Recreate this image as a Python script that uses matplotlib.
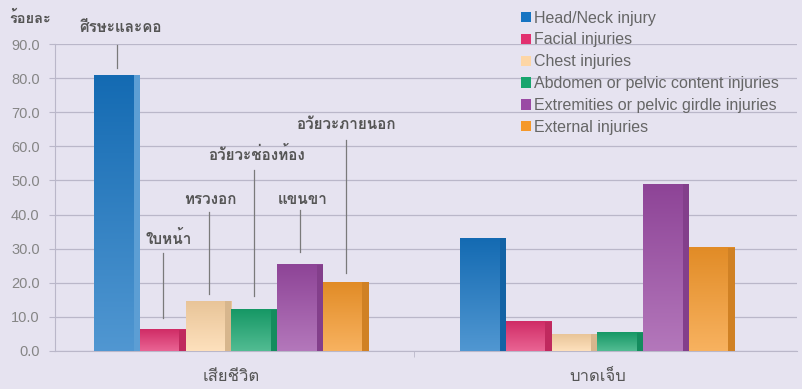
import numpy as np
import matplotlib
matplotlib.use("Agg")
import matplotlib.pyplot as plt
from matplotlib import font_manager
from matplotlib.ft2font import FT2Font
from matplotlib.colors import to_rgb

groups = ["เสียชีวิต", "บาดเจ็บ"]
series = ["Head/Neck injury", "Facial injuries", "Chest injuries",
          "Abdomen or pelvic content injuries",
          "Extremities or pelvic girdle injuries", "External injuries"]
thai_names = ["ศีรษะและคอ", "ใบหน้า", "ทรวงอก", "อวัยวะช่องท้อง", "แขนขา", "อวัยวะภายนอก"]
died = [80.8, 6.2, 14.6, 12.1, 25.3, 20.2]
injured = [33.0, 8.6, 4.9, 5.3, 48.9, 30.2]
yticks = [0, 10, 20, 30, 40, 50, 60, 70, 80, 90]
colors = ["#1674c2", "#e2306f", "#fdd6a6", "#18a56e", "#9a4aa4", "#f5982a"]

BG = "#e6e3f0"
GRID = "#bab7c9"
LATIN = ["Liberation Sans", "DejaVu Sans"]


def thai_fonts():
    found = []
    for f in font_manager.fontManager.ttflist:
        try:
            if 0x0E28 in FT2Font(f.fname).get_charmap() and f.name not in found:
                found.append(f.name)
        except Exception:
            pass
    return found


def shade(c, f):
    r = np.array(to_rgb(c))
    return r + (1 - r) * f if f > 0 else r * (1 + f)


def main():
    thai = thai_fonts()
    plt.rcParams["font.family"] = thai + ["DejaVu Sans"]

    fig = plt.figure(figsize=(8.03, 3.89), dpi=100, facecolor=BG)
    ax = fig.add_axes([55 / 803, 38 / 389, 742 / 803, 307 / 389])
    ax.set_facecolor(BG)

    w = 0.125
    data = [died, injured]
    for gi, vals in enumerate(data):
        for i, v in enumerate(vals):
            x = gi + (i - 2.5) * w
            c = colors[i]
            bar = ax.bar(x, v, w, color=c, zorder=3, label=series[i] if gi == 0 else None)[0]
            grad = np.linspace(shade(c, -0.08), shade(c, 0.25), 50).reshape(50, 1, 3)
            ax.imshow(grad, extent=[x - w / 2, x + w / 2, 0, v], aspect="auto",
                      clip_path=bar, zorder=3.5, interpolation="bilinear")
            sw = w * 0.14
            side = shade(c, 0.3) if gi == 0 and i == 0 else shade(c, -0.15)
            ax.bar(x + w / 2 - sw / 2, v, sw, color=side, zorder=4)

    ax.set_xlim(-0.482, 1.545)
    ax.set_ylim(0, 90)
    ax.set_yticks(yticks, [f"{t:.1f}" for t in yticks])
    ax.set_xticks([0, 1], groups)
    ax.set_xticks([0.5], minor=True)
    ax.tick_params(axis="x", which="major", length=0, pad=13, labelsize=12, labelcolor="#555555")
    ax.tick_params(axis="x", which="minor", length=4, color=GRID, direction="out")
    ax.tick_params(axis="y", length=4, color=GRID, pad=7, labelsize=10.5, labelcolor="#858585")
    for lab in ax.get_yticklabels():
        lab.set_family(LATIN)
    ax.grid(axis="y", color=GRID, linewidth=0.9, zorder=0)
    for s in ["top", "right"]:
        ax.spines[s].set_visible(False)
    ax.spines["left"].set_color(GRID)
    ax.spines["bottom"].set_color(GRID)

    # Thai callouts for the first group
    text_x = [-0.304, -0.17, -0.057, 0.069, 0.195, 0.314]
    text_y = [94.8, 33.1, 44.3, 57.5, 44.3, 66.3]
    line_top = [89.7, 28.7, 40.8, 53.1, 41.3, 61.9]
    gaps = [2.2, 3.5, 2.0, 4.0, 3.8, 2.8]
    for i, name in enumerate(thai_names):
        bx = (i - 2.5) * w
        ax.plot([bx, bx], [died[i] + gaps[i], line_top[i]], color="#7a7a7a",
                lw=0.9, zorder=5, clip_on=False)
        ax.text(text_x[i], text_y[i], name, ha="center", va="center", fontsize=11,
                fontweight="bold", color="#555555", zorder=6, clip_on=False)

    fig.text(30 / 803, 1 - 18 / 389, "ร้อยละ", ha="center", va="center",
             fontsize=10.5, fontweight="bold", color="#555555")

    fig.legend(loc="upper left", bbox_to_anchor=(519 / 803, 1 - 9 / 389),
               frameon=False, borderaxespad=0, borderpad=0.1,
               handlelength=0.62, handleheight=0.62,
               handletextpad=0.25, labelspacing=0.43,
               labelcolor="#666666", prop={"family": LATIN, "size": 11.5})

    fig.savefig("out.png", dpi=100, facecolor=BG)


if __name__ == "__main__":
    main()
